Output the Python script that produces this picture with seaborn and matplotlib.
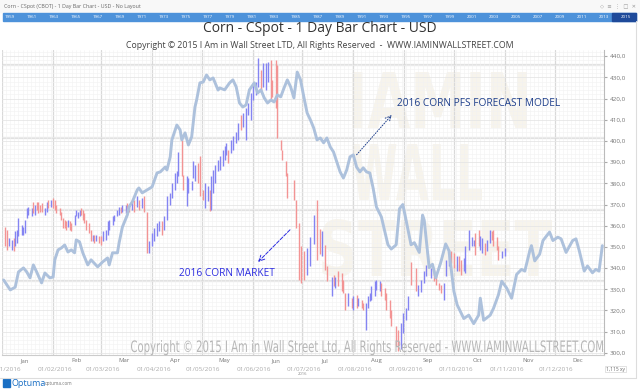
import matplotlib
matplotlib.use("Agg")
import numpy as np
import matplotlib.pyplot as plt
from matplotlib.patches import Rectangle, PathPatch
from matplotlib.lines import Line2D
from matplotlib.textpath import TextPath
from matplotlib.font_manager import FontProperties
from matplotlib.transforms import Affine2D
import seaborn as sns

# 2016 corn market, daily bars (day of year, high, low, u = up bar / d = down bar)
bar_day = [2, 3, 4, 6, 7, 8, 9, 10, 12, 13,
           14, 15, 16, 18, 19, 20, 21, 22, 23, 24,
           26, 27, 28, 30, 31, 32, 33, 35, 36, 37,
           38, 39, 40, 41, 42, 44, 45, 46, 47, 48,
           49, 50, 51, 53, 54, 55, 56, 57, 59, 60,
           61, 63, 64, 65, 67, 68, 70, 71, 72, 73,
           75, 76, 77, 79, 80, 82, 83, 85, 86, 88,
           89, 91, 92, 94, 95, 97, 98, 100, 102, 103,
           105, 106, 107, 109, 110, 112, 113, 115, 116, 117,
           119, 120, 122, 123, 125, 126, 127, 128, 129, 131,
           132, 134, 135, 136, 137, 139, 140, 142, 143, 145,
           146, 148, 149, 151, 152, 154, 155, 157, 158, 160,
           161, 163, 164, 166, 167, 169, 170, 172, 173, 177,
           178, 180, 181, 183, 185, 187, 189, 191, 193, 194,
           196, 197, 200, 201, 202, 204, 206, 207, 208, 210,
           212, 213, 215, 216, 218, 219, 221, 222, 223, 224,
           226, 227, 229, 230, 232, 233, 235, 236, 239, 240,
           242, 243, 245, 246, 248, 251, 252, 254, 256, 257,
           260, 262, 263, 265, 266, 268, 269, 271, 272, 274,
           276, 277, 278, 280, 281, 283, 285, 286, 287, 289,
           290, 291, 293, 294, 296, 297, 298, 300, 301, 303,
           305]
bar_high = [359.6, 358.0, 354.0, 353.4, 354.0, 357.3, 358.0, 363.6, 360.4, 359.6,
            362.8, 368.3, 369.0, 368.3, 371.4, 369.8, 371.4, 371.4, 369.8, 370.6,
            368.3, 371.4, 372.2, 372.2, 373.0, 372.2, 369.8, 368.3, 366.7, 363.6,
            362.8, 362.0, 362.8, 362.0, 361.2, 365.1, 367.5, 366.7, 367.5, 368.3,
            367.5, 366.0, 362.8, 361.2, 358.0, 355.7, 355.7, 355.7, 355.0, 355.0,
            357.3, 358.0, 362.0, 362.8, 364.4, 365.1, 367.5, 369.0, 369.0, 369.8,
            369.8, 370.6, 369.8, 371.4, 372.2, 373.8, 372.2, 373.0, 373.8, 366.7,
            352.6, 356.5, 358.9, 361.3, 362.0, 362.0, 364.4, 373.8, 375.4, 380.1,
            384.8, 385.6, 395.0, 400.5, 384.0, 383.3, 382.5, 380.9, 390.3, 388.7,
            389.5, 392.7, 377.0, 380.1, 378.5, 377.0, 383.3, 386.4, 388.7, 391.1,
            392.7, 395.8, 397.4, 398.9, 395.8, 400.5, 402.1, 404.4, 408.4, 412.3,
            413.1, 415.4, 417.8, 422.5, 427.2, 428.0, 439.0, 433.5, 436.6, 436.6,
            437.4, 438.2, 428.8, 438.2, 435.8, 400.5, 395.8, 390.3, 384.8, 381.6,
            372.0, 361.2, 350.2, 347.9, 349.4, 354.9, 365.0, 372.2, 358.5, 357.3,
            351.0, 340.8, 336.0, 336.9, 336.0, 338.4, 337.7, 334.5, 328.2, 328.2,
            325.9, 326.7, 327.5, 325.9, 325.1, 323.5, 323.5, 326.7, 328.2, 331.4,
            333.7, 334.5, 333.7, 333.0, 330.6, 328.2, 325.1, 320.4, 312.5, 311.0,
            314.1, 318.8, 321.2, 326.7, 342.8, 340.0, 332.2, 334.5, 338.5, 341.6,
            340.0, 339.2, 336.9, 333.0, 332.2, 333.0, 344.0, 348.7, 347.9, 347.1,
            345.5, 345.5, 344.0, 344.7, 350.2, 358.1, 354.9, 353.4, 356.5, 358.1,
            355.0, 354.2, 351.8, 353.4, 358.1, 357.3, 358.1, 354.9, 350.2, 347.9,
            349.4]
bar_low = [350.2, 348.6, 350.2, 348.6, 348.0, 350.2, 351.8, 355.0, 355.7, 355.7,
           356.5, 363.6, 365.1, 364.4, 366.0, 365.1, 367.5, 366.0, 366.7, 366.7,
           365.1, 366.7, 368.3, 369.0, 368.3, 367.5, 366.0, 365.1, 362.8, 358.9,
           358.9, 358.0, 359.6, 358.0, 357.3, 360.4, 364.4, 363.6, 364.4, 365.1,
           362.8, 361.2, 358.0, 356.5, 352.6, 352.6, 351.8, 352.6, 351.8, 351.0,
           352.6, 353.4, 355.7, 358.0, 360.4, 362.0, 364.4, 365.1, 366.0, 366.7,
           366.0, 366.0, 366.7, 367.5, 366.7, 369.0, 367.5, 368.3, 366.7, 347.1,
           347.1, 350.3, 352.6, 355.0, 357.3, 355.8, 358.1, 362.8, 369.9, 373.0,
           377.0, 380.1, 383.3, 383.3, 377.0, 369.1, 375.4, 377.0, 382.5, 380.9,
           380.1, 373.8, 372.3, 368.3, 371.5, 366.8, 367.5, 375.4, 380.1, 385.6,
           386.4, 388.0, 391.1, 393.4, 389.5, 394.2, 395.8, 398.9, 400.5, 405.2,
           406.8, 400.5, 412.3, 409.9, 419.3, 421.7, 425.6, 423.3, 425.6, 424.1,
           428.0, 419.3, 420.9, 415.4, 401.3, 395.8, 391.1, 383.3, 373.0, 372.2,
           359.0, 334.5, 333.0, 334.5, 336.9, 340.8, 351.5, 344.0, 346.5, 345.5,
           339.0, 333.7, 326.7, 331.4, 330.6, 331.4, 329.0, 328.2, 320.4, 322.0,
           321.2, 320.4, 321.2, 322.0, 321.2, 320.4, 311.0, 321.2, 324.3, 325.1,
           326.7, 329.8, 329.0, 326.7, 325.1, 320.4, 316.5, 312.5, 303.1, 300.8,
           301.6, 309.4, 315.7, 320.4, 332.2, 329.0, 326.7, 328.5, 333.0, 336.1,
           335.3, 333.7, 332.2, 329.8, 328.3, 325.1, 336.1, 340.8, 342.4, 340.0,
           338.5, 338.5, 336.9, 338.5, 337.7, 348.7, 350.2, 350.2, 346.3, 350.2,
           348.7, 347.1, 346.3, 347.9, 351.8, 353.4, 350.2, 348.7, 343.9, 344.7,
           345.5]
bar_dir = ("dduuduuuuu" "uuuududddd" "uududddddd" "ddudduuuud" "dddddududd"
           "uuuuuuuudu" "uddudududd" "uuuuuduuuu" "uuudduuuuu" "ddduuduuuu"
           "uuuuduuuud" "uuuuuuuduu" "uddddddddd" "dddduuuddu" "ddududdddu"
           "dududduuuu" "uuuddddddd" "uuuudduuuu" "udddduuudd" "udduuuuudd"
           "uuduuddddu" "u")

# 2016 corn PFS forecast model (day of year, price)
line_day = [1, 5, 8, 10, 13, 15, 17, 19, 21, 24,
            26, 29, 31, 32, 34, 36, 38, 40, 42, 44,
            45, 47, 49, 52, 54, 58, 61, 64, 65, 67,
            70, 71, 73, 76, 77, 79, 82, 83, 85, 88,
            91, 94, 96, 99, 100, 102, 103, 106, 108, 109,
            111, 113, 115, 117, 118, 120, 122, 124, 126, 128,
            131, 132, 135, 138, 140, 142, 144, 146, 148, 150,
            153, 155, 157, 159, 161, 163, 165, 167, 169, 171,
            173, 175, 177, 179, 181, 183, 185, 187, 189, 191,
            193, 195, 197, 199, 201, 203, 205, 207, 209, 211,
            213, 215, 217, 219, 221, 223, 225, 227, 230, 234,
            236, 239, 241, 243, 245, 248, 250, 253, 255, 256,
            259, 261, 263, 266, 269, 271, 274, 276, 280, 283,
            286, 289, 290, 292, 296, 298, 301, 303, 306, 309,
            312, 315, 317, 320, 321, 323, 326, 328, 332, 334,
            337, 339, 342, 346, 348, 350, 353, 355, 358, 360,
            362, 364]
line_val = [334.4, 329.7, 331.0, 338.2, 340.1, 338.2, 335.4, 341.5, 338.2, 333.0,
            337.7, 335.4, 335.8, 343.9, 348.6, 349.5, 350.9, 347.6, 348.6, 347.2,
            353.3, 352.4, 347.2, 341.5, 343.9, 340.6, 342.9, 344.8, 341.5, 347.2,
            347.2, 351.9, 359.4, 365.1, 368.9, 371.2, 376.9, 377.8, 375.5, 376.9,
            378.3, 384.9, 385.4, 387.7, 386.3, 392.5, 400.5, 407.5, 405.2, 400.5,
            403.8, 398.1, 401.9, 416.0, 419.3, 427.4, 427.8, 431.1, 428.8, 429.7,
            424.0, 425.0, 424.1, 427.4, 428.8, 425.5, 417.9, 416.0, 417.0, 424.1,
            427.4, 422.6, 424.1, 420.3, 417.9, 419.3, 418.4, 421.7, 420.8, 425.0,
            428.8, 425.5, 420.3, 432.5, 428.8, 420.8, 413.2, 409.9, 406.1, 400.5,
            401.4, 399.1, 401.4, 397.2, 394.8, 390.1, 385.4, 382.5, 386.3, 392.5,
            393.4, 387.7, 385.4, 387.3, 385.4, 384.9, 377.8, 368.9, 364.2, 351.0,
            349.0, 351.0, 368.0, 370.0, 362.6, 351.0, 352.0, 347.4, 365.0, 362.6,
            340.2, 341.8, 335.4, 342.6, 351.4, 348.2, 329.0, 322.6, 316.2, 317.8,
            313.8, 317.8, 325.8, 315.4, 317.8, 321.0, 327.4, 333.8, 330.6, 325.8,
            337.0, 339.4, 338.6, 348.2, 350.6, 343.4, 346.6, 353.0, 357.0, 353.0,
            354.6, 353.8, 347.4, 353.0, 353.8, 348.2, 338.6, 341.0, 337.8, 339.4,
            338.6, 350.6]

month_names = ["Jan", "Feb", "Mar", "Apr", "May", "Jun",
               "Jul", "Aug", "Sep", "Oct", "Nov", "Dec"]
month_start = [0, 31, 60, 91, 121, 152, 182, 213, 244, 274, 305, 335]
price_ticks = list(range(300, 450, 10))
year_labels = [str(y) for y in range(1959, 2017, 2)]

sns.set_style("white")
plt.rcParams["font.family"] = ["Open Sans", "DejaVu Sans"]

fig = plt.figure(figsize=(6.4, 3.9), dpi=100)
W, H = 640.0, 390.0
ax = fig.add_axes([2 / W, 1 - 355 / H, 602 / W, 305 / H])
ax.set_xlim(0.1, 363.6)
ax.set_ylim(299.0, 442.9)


def path_text(s, x0, base, width, cap, color, weight="normal", z=0.6):
    # text drawn as a squeezed outline, placed in figure pixels
    tp = TextPath((0, 0), s, size=1, prop=FontProperties(family="DejaVu Sans", weight=weight))
    ext = tp.get_extents()
    sx = width / ext.width / W
    sy = cap / 0.73 / H
    tr = Affine2D().translate(-ext.x0, 0).scale(sx, sy).translate(x0 / W, 1 - base / H)
    fig.patches.append(PathPatch(tr.transform_path(tp), transform=fig.transFigure,
                                 fc=color, ec="none", zorder=z))


# grid
ax.set_xticks(month_start)
ax.set_xticks(np.arange(0, 366, 2.5), minor=True)
ax.set_yticks(price_ticks)
ax.set_yticks(np.arange(300, 443, 2), minor=True)
ax.grid(which="minor", color="#f2f2f2", lw=0.4)
ax.grid(which="major", axis="x", color="#d9d9d9", lw=0.9)
ax.grid(which="major", axis="y", color="#e6e6e6", lw=0.6)
for v in [435.8, 401.4, 367.5, 334.0]:
    ax.axhline(v, color="#e2e2e2", lw=1.6, zorder=0.5)
ax.set_axisbelow(True)
ax.patch.set_alpha(0)

# faint watermark logo letters behind the plot
path_text("IAMIN", 352, 128, 175, 56, "#f7f4ec", weight="bold", z=-1)
path_text("WALL", 352, 200, 130, 56, "#f7f4ec", weight="bold", z=-1)
path_text("STREET", 322, 276, 230, 56, "#f7f4ec", weight="bold", z=-1)

# bars
up_c, dn_c = "#8484f2", "#f39494"
cols = [up_c if c == "u" else dn_c for c in bar_dir]
ax.vlines(bar_day, bar_low, bar_high, colors=cols, lw=1.0, zorder=2)

# forecast line
sns.lineplot(x=line_day, y=line_val, color="#adc1dc", lw=2.1, ax=ax, zorder=3)

# annotations
ax.annotate("", xy=(237.4, 413.2), xytext=(213.9, 392.5),
            arrowprops=dict(arrowstyle="->", color="#1e3f8c", lw=0.7, ls=":"))
ax.text(239.3, 417.6, "2016 CORN PFS FORECAST MODEL", color="#1e3f8c",
        fontsize=7.3, va="center", ha="left")
ax.annotate("", xy=(154.1, 342.0), xytext=(175.8, 359.0),
            arrowprops=dict(arrowstyle="->", color="#2b2be0", lw=0.7, ls="--"))
ax.text(107.6, 337.3, "2016 CORN MARKET", color="#2b2be0",
        fontsize=7.3, va="center", ha="left")

# bottom watermark, narrow lettering
path_text("Copyright \u00a9 2015 I Am in Wall Street Ltd, All Rights Reserved - WWW.IAMINWALLSTREET.COM",
          131, 352, 472, 11.5, "#b7b7b7", z=5)

# axes styling
ax.yaxis.tick_right()
ax.set_yticklabels([f"{t},0" for t in price_ticks])
ax.tick_params(axis="y", which="major", length=2, color="#aaaaaa", labelsize=4.5,
               labelcolor="#777777", pad=2, right=True)
ax.tick_params(axis="both", which="minor", length=0)
ax.tick_params(axis="x", which="major", length=0, labelbottom=False)
ax.set_xlabel("")
ax.set_ylabel("")
for s in ["top", "left"]:
    ax.spines[s].set_visible(False)
ax.spines["right"].set_color("#bbbbbb")
ax.spines["bottom"].set_color("#cccccc")
ax.spines["right"].set_linewidth(0.8)
ax.spines["bottom"].set_linewidth(0.8)

trans = ax.get_xaxis_transform()
for i, (m, d) in enumerate(zip(month_names, month_start)):
    ax.text(d + 14, -0.018, m, transform=trans, ha="center", va="center",
            fontsize=4.3, color="#777777", clip_on=False)
    ax.text(d + 1, -0.046, f"01/{i + 1:02d}/2016", transform=trans,
            ha="center", va="center", fontsize=4.6, color="#aaaaaa", clip_on=False)
ax.text(182, -0.062, "2016", transform=trans, ha="center", va="center",
        fontsize=3, color="#888888", clip_on=False)

# header
fig.patches.append(Rectangle((0, 1 - 12 / H), 1, 12 / H, transform=fig.transFigure,
                             color="#f8f8f8", zorder=0))
fig.text(4 / W, 1 - 6.5 / H, "Corn - CSpot (CBOT) - 1 Day Bar Chart - USD - No Layout",
         fontsize=3.8, color="#666666", va="center")
fig.text(636 / W, 1 - 6.5 / H, "\u25c7  \u2261  \u22ee  \u25a1  \u2715", fontsize=3.8,
         color="#999999", va="center", ha="right", family=["DejaVu Sans"])
fig.patches.append(Rectangle((3 / W, 1 - 21 / H), 633 / W, 8 / H, transform=fig.transFigure,
                             color="#4d92da", zorder=1))
fig.patches.append(Rectangle((612 / W, 1 - 21 / H), 24 / W, 8 / H, transform=fig.transFigure,
                             color="#1e4a9a", zorder=1))
for i, yl in enumerate(year_labels):
    fig.text((5 + 22 * i) / W, 1 - 17 / H, yl, fontsize=3.2, color="white", va="center", zorder=2)

fig.text(0.5, 1 - 28 / H, "Corn - CSpot - 1 Day Bar Chart - USD", ha="center", va="center",
         fontsize=10, color="#333333")
fig.text(0.5, 1 - 45 / H,
         "Copyright \u00a9 2015 I Am in Wall Street LTD, All Rights Reserved  -  WWW.IAMINWALLSTREET.COM",
         ha="center", va="center", fontsize=6.3, color="#444444")

# frame and footer
fig.add_artist(Line2D([0, 636 / W], [1 - 378 / H] * 2, color="#dddddd", lw=0.8))
fig.add_artist(Line2D([636 / W] * 2, [1 - 378 / H, 1 - 21 / H], color="#dddddd", lw=0.8))
fig.text(606 / W, 1 - 369 / H, "1,115 xy", fontsize=3.5, color="#666666", va="center",
         bbox=dict(boxstyle="square,pad=0.2", fc="white", ec="#cccccc", lw=0.4))
fig.patches.append(Rectangle((3 / W, 1 - 387 / H), 7 / W, 8 / H, transform=fig.transFigure,
                             color="#1a6fc4", zorder=1))
fig.text(12 / W, 1 - 383 / H, "Optuma", fontsize=6.5, color="#1a6fc4", va="center")
fig.text(45 / W, 1 - 384 / H, "optuma.com", fontsize=3.3, color="#777777", va="center")

fig.savefig("out.png", dpi=100, facecolor="white")
